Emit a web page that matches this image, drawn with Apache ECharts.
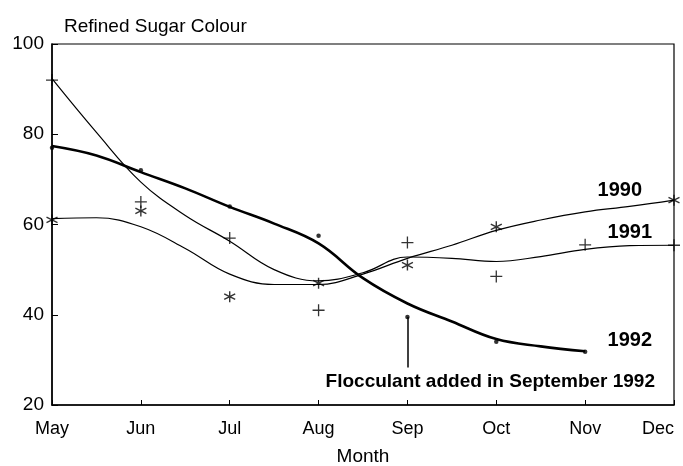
<!DOCTYPE html>
<html>
<head>
<meta charset="utf-8">
<script src="https://cdn.jsdelivr.net/npm/echarts@6/dist/echarts.min.js"></script>
<style>
html,body{margin:0;padding:0;background:#fff;}
#chart{width:683px;height:466px;}
</style>
</head>
<body>
<div id="chart"></div>
<script>
// ---- data ----
var months = ['May','Jun','Jul','Aug','Sep','Oct','Nov','Dec'];
var yTicks = [20, 40, 60, 80, 100];

// fitted curves, read at monthly and half-monthly positions (x = month index)
var curveX1990 = [0,0.5,1,1.5,2,2.5,3,3.5,4,4.5,5,5.5,6,6.5,7];
var curve1990  = [61.3,61.5,59.5,54.7,49.0,46.7,46.7,49.0,52.5,55.4,58.7,61.0,62.8,64.0,65.4];
var curveX1991 = [0,0.5,1,1.5,2,2.5,3,3.5,4,4.5,5,5.5,6,6.5,7];
var curve1991  = [92.3,80.4,69.4,62.0,56.3,50.0,47.5,49.3,52.8,52.5,51.8,52.9,54.5,55.3,55.4];
var curveX1992 = [0,0.5,1,1.5,2,2.5,3,3.5,4,4.5,5,5.5,6];
var curve1992  = [77.4,75.3,71.6,68.0,63.9,60.2,55.8,48.1,42.5,38.5,34.6,33.0,31.9];

// observed points
var ptsX1990 = [0,1,2,3,4,5,7];
var pts1990  = [61,63,44,47,51,59.5,65.4];
var ptsX1991 = [0,1,2,3,4,5,6,7];
var pts1991  = [92,65,57,41,56,48.5,55.5,55.4];
var ptsX1992 = [0,1,2,3,4,5,6];
var pts1992  = [77,72,64,57.5,39.5,34,31.8];

// annotation arrow (September 1992)
var arrowX = 4;
var arrowFrom = 39.5;
var arrowTo = 28.3;

function pairs(xs, ys){ return xs.map(function(x,i){ return [x, ys[i]]; }); }

var FONT = '"Liberation Sans", Arial, Helvetica, sans-serif';
var plusPath = 'path://M0,6L12,6M6,0L6,12';
var starPath = 'path://M5,0L5,10M0.67,2.5L9.33,7.5M0.67,7.5L9.33,2.5';

var chart = echarts.init(document.getElementById('chart'));
chart.setOption({
  animation: false,
  backgroundColor: '#fff',
  textStyle: {fontFamily: FONT, color: '#000'},
  title: {
    text: 'Refined Sugar Colour',
    left: 59, top: 12,
    textStyle: {fontFamily: FONT, fontSize: 19, fontWeight: 'normal', color: '#000'}
  },
  grid: {
    left: 52, right: 9, top: 44, bottom: 61,
    outerBoundsMode: 'none', containLabel: false,
    show: true, borderColor: '#000', borderWidth: 1.2, backgroundColor: 'transparent'
  },
  xAxis: {
    type: 'value', min: 0, max: 7, interval: 1,
    name: 'Month', nameLocation: 'middle', nameGap: 42,
    nameTextStyle: {fontFamily: FONT, fontSize: 19, color: '#000'},
    axisLine: {lineStyle: {color: '#000', width: 1.5}},
    axisTick: {inside: true, length: 5, lineStyle: {color: '#000', width: 1}},
    axisLabel: {
      fontFamily: FONT, fontSize: 18, color: '#000', margin: 15,
      alignMaxLabel: 'right',
      formatter: function(v){ return months[Math.round(v)] || ''; }
    },
    splitLine: {show: false}
  },
  yAxis: {
    type: 'value', min: yTicks[0], max: yTicks[yTicks.length-1], interval: 20,
    axisLine: {show: true, lineStyle: {color: '#000', width: 1.5}},
    axisTick: {inside: true, length: 6, lineStyle: {color: '#000', width: 1}},
    axisLabel: {fontFamily: FONT, fontSize: 19, color: '#000', margin: 8},
    splitLine: {show: false}
  },
  series: [
    {type: 'line', name: '1990 fit', data: pairs(curveX1990, curve1990), smooth: 0.4,
     showSymbol: false, lineStyle: {color: '#000', width: 1.2}, z: 3},
    {type: 'line', name: '1991 fit', data: pairs(curveX1991, curve1991), smooth: 0.4,
     showSymbol: false, lineStyle: {color: '#000', width: 1.2}, z: 3},
    {type: 'line', name: '1992 fit', data: pairs(curveX1992, curve1992), smooth: 0.4,
     showSymbol: false, lineStyle: {color: '#000', width: 2.6}, z: 4,
     markLine: {
       silent: true, symbol: ['none','none'],
       lineStyle: {color: '#000', width: 1.5, type: 'solid'},
       label: {show: false},
       data: [[{coord: [arrowX, arrowFrom]}, {coord: [arrowX, arrowTo]}]]
     }},
    {type: 'scatter', name: '1990', data: pairs(ptsX1990, pts1990), symbol: starPath, symbolSize: 11,
     itemStyle: {color: 'none', borderColor: '#000', borderWidth: 1.4}, z: 5},
    {type: 'scatter', name: '1991', data: pairs(ptsX1991, pts1991), symbol: plusPath, symbolSize: 12,
     itemStyle: {color: 'none', borderColor: '#000', borderWidth: 1.3}, z: 5},
    {type: 'scatter', name: '1992', data: pairs(ptsX1992, pts1992), symbol: 'circle', symbolSize: 4.5,
     itemStyle: {color: '#000'}, z: 5}
  ],
  graphic: [
    {type: 'text', right: 683-642, top: 180, style: {text: '1990', font: 'bold 20px ' + FONT, fill: '#000'}},
    {type: 'text', right: 683-652, top: 222, style: {text: '1991', font: 'bold 20px ' + FONT, fill: '#000'}},
    {type: 'text', right: 683-652, top: 330, style: {text: '1992', font: 'bold 20px ' + FONT, fill: '#000'}},
    {type: 'text', right: 683-655, top: 372, style: {text: 'Flocculant added in September 1992', font: 'bold 19px ' + FONT, fill: '#000'}}
  ]
});
</script>
</body>
</html>
